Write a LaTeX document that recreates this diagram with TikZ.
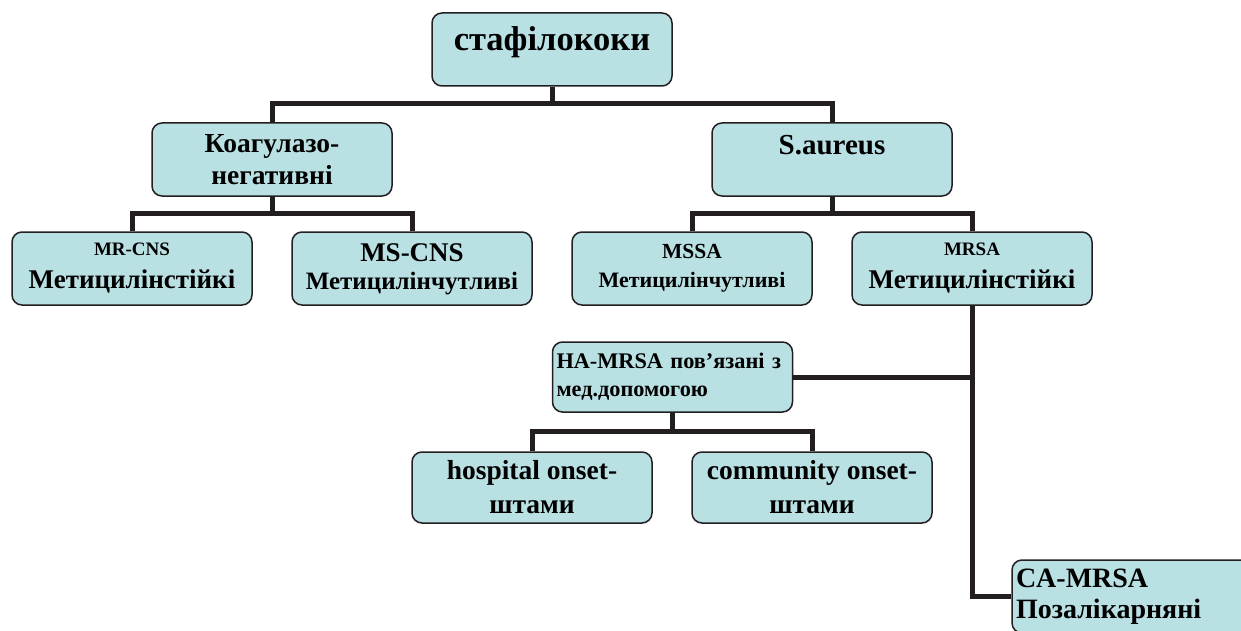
\documentclass[tikz,border=0pt]{standalone}
\usepackage{fontspec}
\setmainfont{Liberation Serif}
\definecolor{boxfill}{HTML}{B9E0E3}
\definecolor{inkline}{HTML}{231F20}

\begin{document}
\begin{tikzpicture}[
  x=1pt,
  y=-1pt,
  line join=miter,
  box/.style={draw=inkline,line width=1.5pt,fill=boxfill,rounded corners=10pt,
    minimum width=240pt,minimum height=73pt,inner sep=2pt,align=center},
  leftbox/.style={box,align=left,text width=232pt,inner sep=4pt},
  link/.style={draw=inkline,line width=5pt}
]
  \newcommand{\lifttext}[2]{\raisebox{#1}[\height][\depth]{#2}}
  \newcommand{\sz}[2]{\fontsize{#1}{#2}\selectfont}

  \useasboundingbox (0,0) rectangle (1241,631);
  \clip (0,0) rectangle (1241,631);

  % Top level and the two groups.
  \node[box,font=\bfseries\sz{34.5}{38}] (staph) at (552,49.5) {\lifttext{7pt}{стафілококи}};
  \node[box,font=\bfseries\sz{27.5}{32}] (koag) at (272,159.5) {Коагулазо-\\негативні};
  \node[box,font=\bfseries\sz{29}{32}] (saur) at (832,159.5) {\lifttext{14pt}{S.aureus}};

  % Third row.
  \node[box,font=\bfseries\sz{27}{33}] (mrcns) at (132,268.5) {{\sz{19}{22}MR-CNS}\\Метицилінстійкі};
  \node[box,font=\bfseries\sz{25}{30}] (mscns) at (412,268.5) {{\sz{27}{30}\lifttext{-2pt}{MS-CNS}}\\Метицилінчутливі};
  \node[box,font=\bfseries\sz{22}{29}] (mssa) at (692,268.5) {{\sz{21.5}{29}MSSA}\\Метицилінчутливі};
  \node[box,font=\bfseries\sz{27}{33}] (mrsa) at (972,268.5) {{\sz{19}{22}MRSA}\\Метицилінстійкі};

  % MRSA branches.
  \node[leftbox,minimum height=70pt,font=\bfseries\sz{22.3}{28}] (hamrsa) at (672.5,377)
    {HA-MRSA пов’язані з\\мед.допомогою};
  \node[box,minimum height=71pt,font=\bfseries\sz{27.5}{34}] (hosp) at (532,487.5) {hospital onset-\\штами};
  \node[box,minimum height=71pt,font=\bfseries\sz{27.5}{34}] (comm) at (812,487.5) {community onset-\\штами};
  \node[leftbox,font=\bfseries\sz{28}{31}] (camrsa) at (1132,596.5) {CA-MRSA\\Позалікарняні};

  % Connectors.
  \draw[link] (staph.south) -- ++(0,18);
  \draw[link] (koag.north) -- ++(0,-19) -| (saur.north);
  \draw[link] (koag.south) -- ++(0,18);
  \draw[link] (mrcns.north) -- ++(0,-18) -| (mscns.north);
  \draw[link] (saur.south) -- ++(0,18);
  \draw[link] (mssa.north) -- ++(0,-18) -| (mrsa.north);
  \draw[link] (mrsa.south) |- (hamrsa.east);
  \draw[link] (mrsa.south) |- (camrsa.west);
  \draw[link] (hamrsa.south) -- ++(0,20);
  \draw[link] (hosp.north) -- ++(0,-20) -| (comm.north);
\end{tikzpicture}
\end{document}
